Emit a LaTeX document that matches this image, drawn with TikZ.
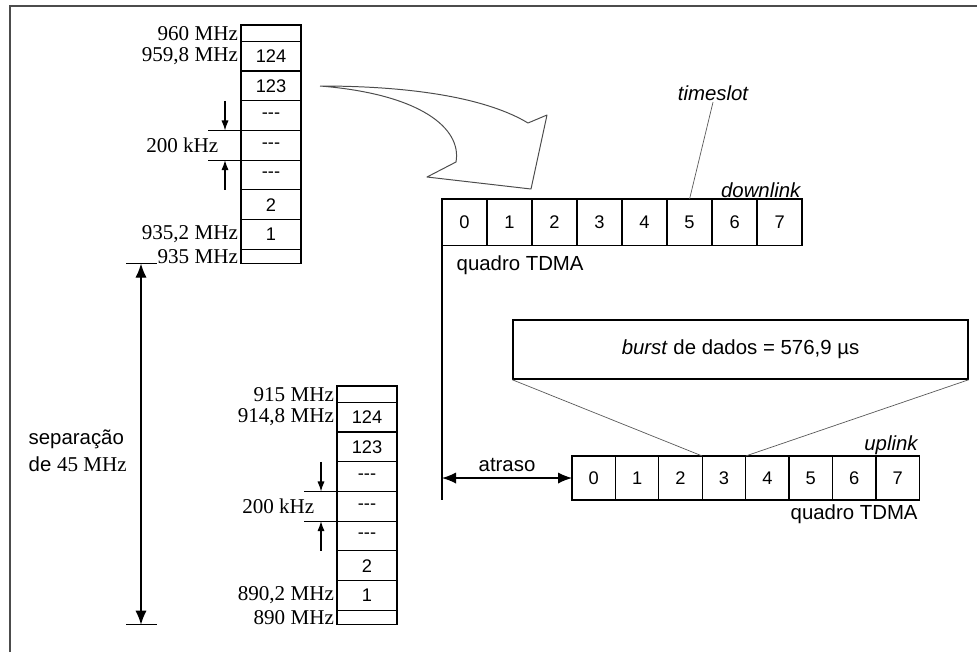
\documentclass[tikz,border=0pt]{standalone}
\usepackage{fontspec}
\setmainfont{Liberation Serif}
\setsansfont{Liberation Sans}
\usetikzlibrary{arrows.meta, positioning, calc}
\newcommand\tridash{-\kern0pt-\kern0pt-}

\begin{document}
\begin{tikzpicture}[
    x=0.025cm, y=-0.025cm,
    fcell/.style={rectangle, draw, line width=0.9pt, minimum width=1.5cm, minimum height=0.742cm, inner sep=0pt, outer sep=0pt, font=\sffamily\fontsize{13}{15}\selectfont},
    fstrip/.style={fcell, minimum height=0.41cm},
    tcell/.style={rectangle, draw, line width=0.9pt, minimum width=1.125cm, minimum height=1.165cm, inner sep=0pt, outer sep=0pt, font=\sffamily\fontsize{13}{15}\selectfont},
    ucell/.style={tcell, minimum width=1.085cm, minimum height=1.1cm},
    flbl/.style={font=\fontsize{15}{17}\selectfont, inner sep=1pt},
    lbl/.style={font=\sffamily\fontsize{14.5}{17}\selectfont, inner sep=1pt},
    ilbl/.style={lbl, font=\sffamily\itshape\fontsize{14.5}{17}\selectfont},
    bigarrow/.style={line width=0.9pt, {Latex[length=0.35cm,width=0.28cm]}-{Latex[length=0.35cm,width=0.28cm]}},
    smallarrow/.style={line width=0.8pt, -{Latex[length=0.25cm,width=0.18cm]}},
    tick/.style={line width=0.8pt},
    thinline/.style={line width=0.5pt, gray!70!black}
]
\useasboundingbox (0,0) rectangle (977,652);
\draw[gray!60!black, line width=1.4pt] (10,652) -- (10,6) -- (977,6);

% frequency columns
\foreach \col/\x/\y in {u/241/25, l/337/386} {
  \node[fstrip, anchor=north west] (\col0) at (\x,\y) {};
  \foreach \txt [count=\i, evaluate=\i as \j using int(\i-1)] in {124,123,\tridash,\tridash,\tridash,2,1}
    \node[fcell, below=0pt of \col\j] (\col\i) {\txt};
  \node[fstrip, minimum height=0.36cm, below=0pt of \col7] (\col8) {};
  \draw[tick] (\col4.north west) -- ++(-33,0);
  \draw[tick] (\col4.south west) -- ++(-33,0);
  \draw[smallarrow] ($(\col3.north west)+(-16,0)$) -- ($(\col4.north west)+(-16,0)$);
  \draw[smallarrow] ($(\col5.south west)+(-16,0)$) -- ($(\col4.south west)+(-16,0)$);
  \node[flbl, anchor=east] (\col k) at ($(\col4.west)+(-21,0)$) {200 kHz};
}

\node[flbl, left=1pt of u0] (u0lbl) {960 MHz};
\node[flbl, left=1pt of u1] (u1lbl) {959,8 MHz};
\node[flbl, left=1pt of u7] (u7lbl) {935,2 MHz};
\node[flbl, left=1pt of u8] (u8lbl) {935 MHz};
\node[flbl, left=1pt of l0] (l0lbl) {915 MHz};
\node[flbl, left=1pt of l1] (l1lbl) {914,8 MHz};
\node[flbl, left=1pt of l7] (l7lbl) {890,2 MHz};
\node[flbl, left=1pt of l8] (l8lbl) {890 MHz};

% separation
\coordinate (sepx) at (141,0);
\draw[bigarrow] (sepx |- u8.south) -- (sepx |- l8.south);
\draw[tick] (sepx |- u8.south) +(-15,0) -- +(16,0);
\draw[tick] (sepx |- l8.south) +(-15,0) -- +(16,0);
\node[lbl, anchor=west, align=left, font=\sffamily\fontsize{14.5}{19}\selectfont] (sep) at (27,451) {separação\\de {\rmfamily\fontsize{15}{19}\selectfont 45 MHz}};

% curved arrow
\draw[gray!60!black, line width=0.7pt, line join=round]
  (320,86) .. controls (420,86) and (490,100) .. (528,123) -- (547,115) -- (531,189)
  -- (427,177) -- (456,162) .. controls (462,128) and (420,94) .. (320,86);

% downlink frame
\node[tcell, anchor=north west] (dl0) at (442,199) {0};
\foreach \i [evaluate=\i as \j using int(\i-1)] in {1,...,7}
  \node[tcell, right=0pt of dl\j] (dl\i) {\i};
\node[ilbl, anchor=south east] (dlk) at (dl7.north east) {downlink};
\node[lbl, anchor=north west] (qdl) at ($(dl0.south west)+(13,8)$) {quadro TDMA};
\node[ilbl] (tslot) at (713,93) {timeslot};
\draw[thinline] (tslot.south) -- (dl5.north);

% uplink frame
\node[ucell, anchor=north west] (ul0) at (572,456) {0};
\foreach \i [evaluate=\i as \j using int(\i-1)] in {1,...,7}
  \node[ucell, right=0pt of ul\j] (ul\i) {\i};
\node[ilbl, anchor=south east] (ulk) at (ul7.north east) {uplink};
\node[lbl, anchor=north east] (qul) at ($(ul7.south east)+(0,3)$) {quadro TDMA};

\draw[line width=0.9pt] (dl0.south west) -- (dl0.south west |- ul0.south);
\draw[bigarrow] (dl0.south west |- ul0.west) -- (ul0.west) node[lbl, midway, above=3pt] (atr) {atraso};

% burst
\node[rectangle, draw, line width=0.9pt, minimum width=11.375cm, minimum height=1.475cm, lbl] (burst) at (740.5,349.6) {\textit{burst} de dados = 576,9 µs\hspace{1.1cm}};
\draw[thinline] (burst.south west) -- (ul3.north west);
\draw[thinline] (burst.south east) -- (ul3.north east);

\end{tikzpicture}
\end{document}
